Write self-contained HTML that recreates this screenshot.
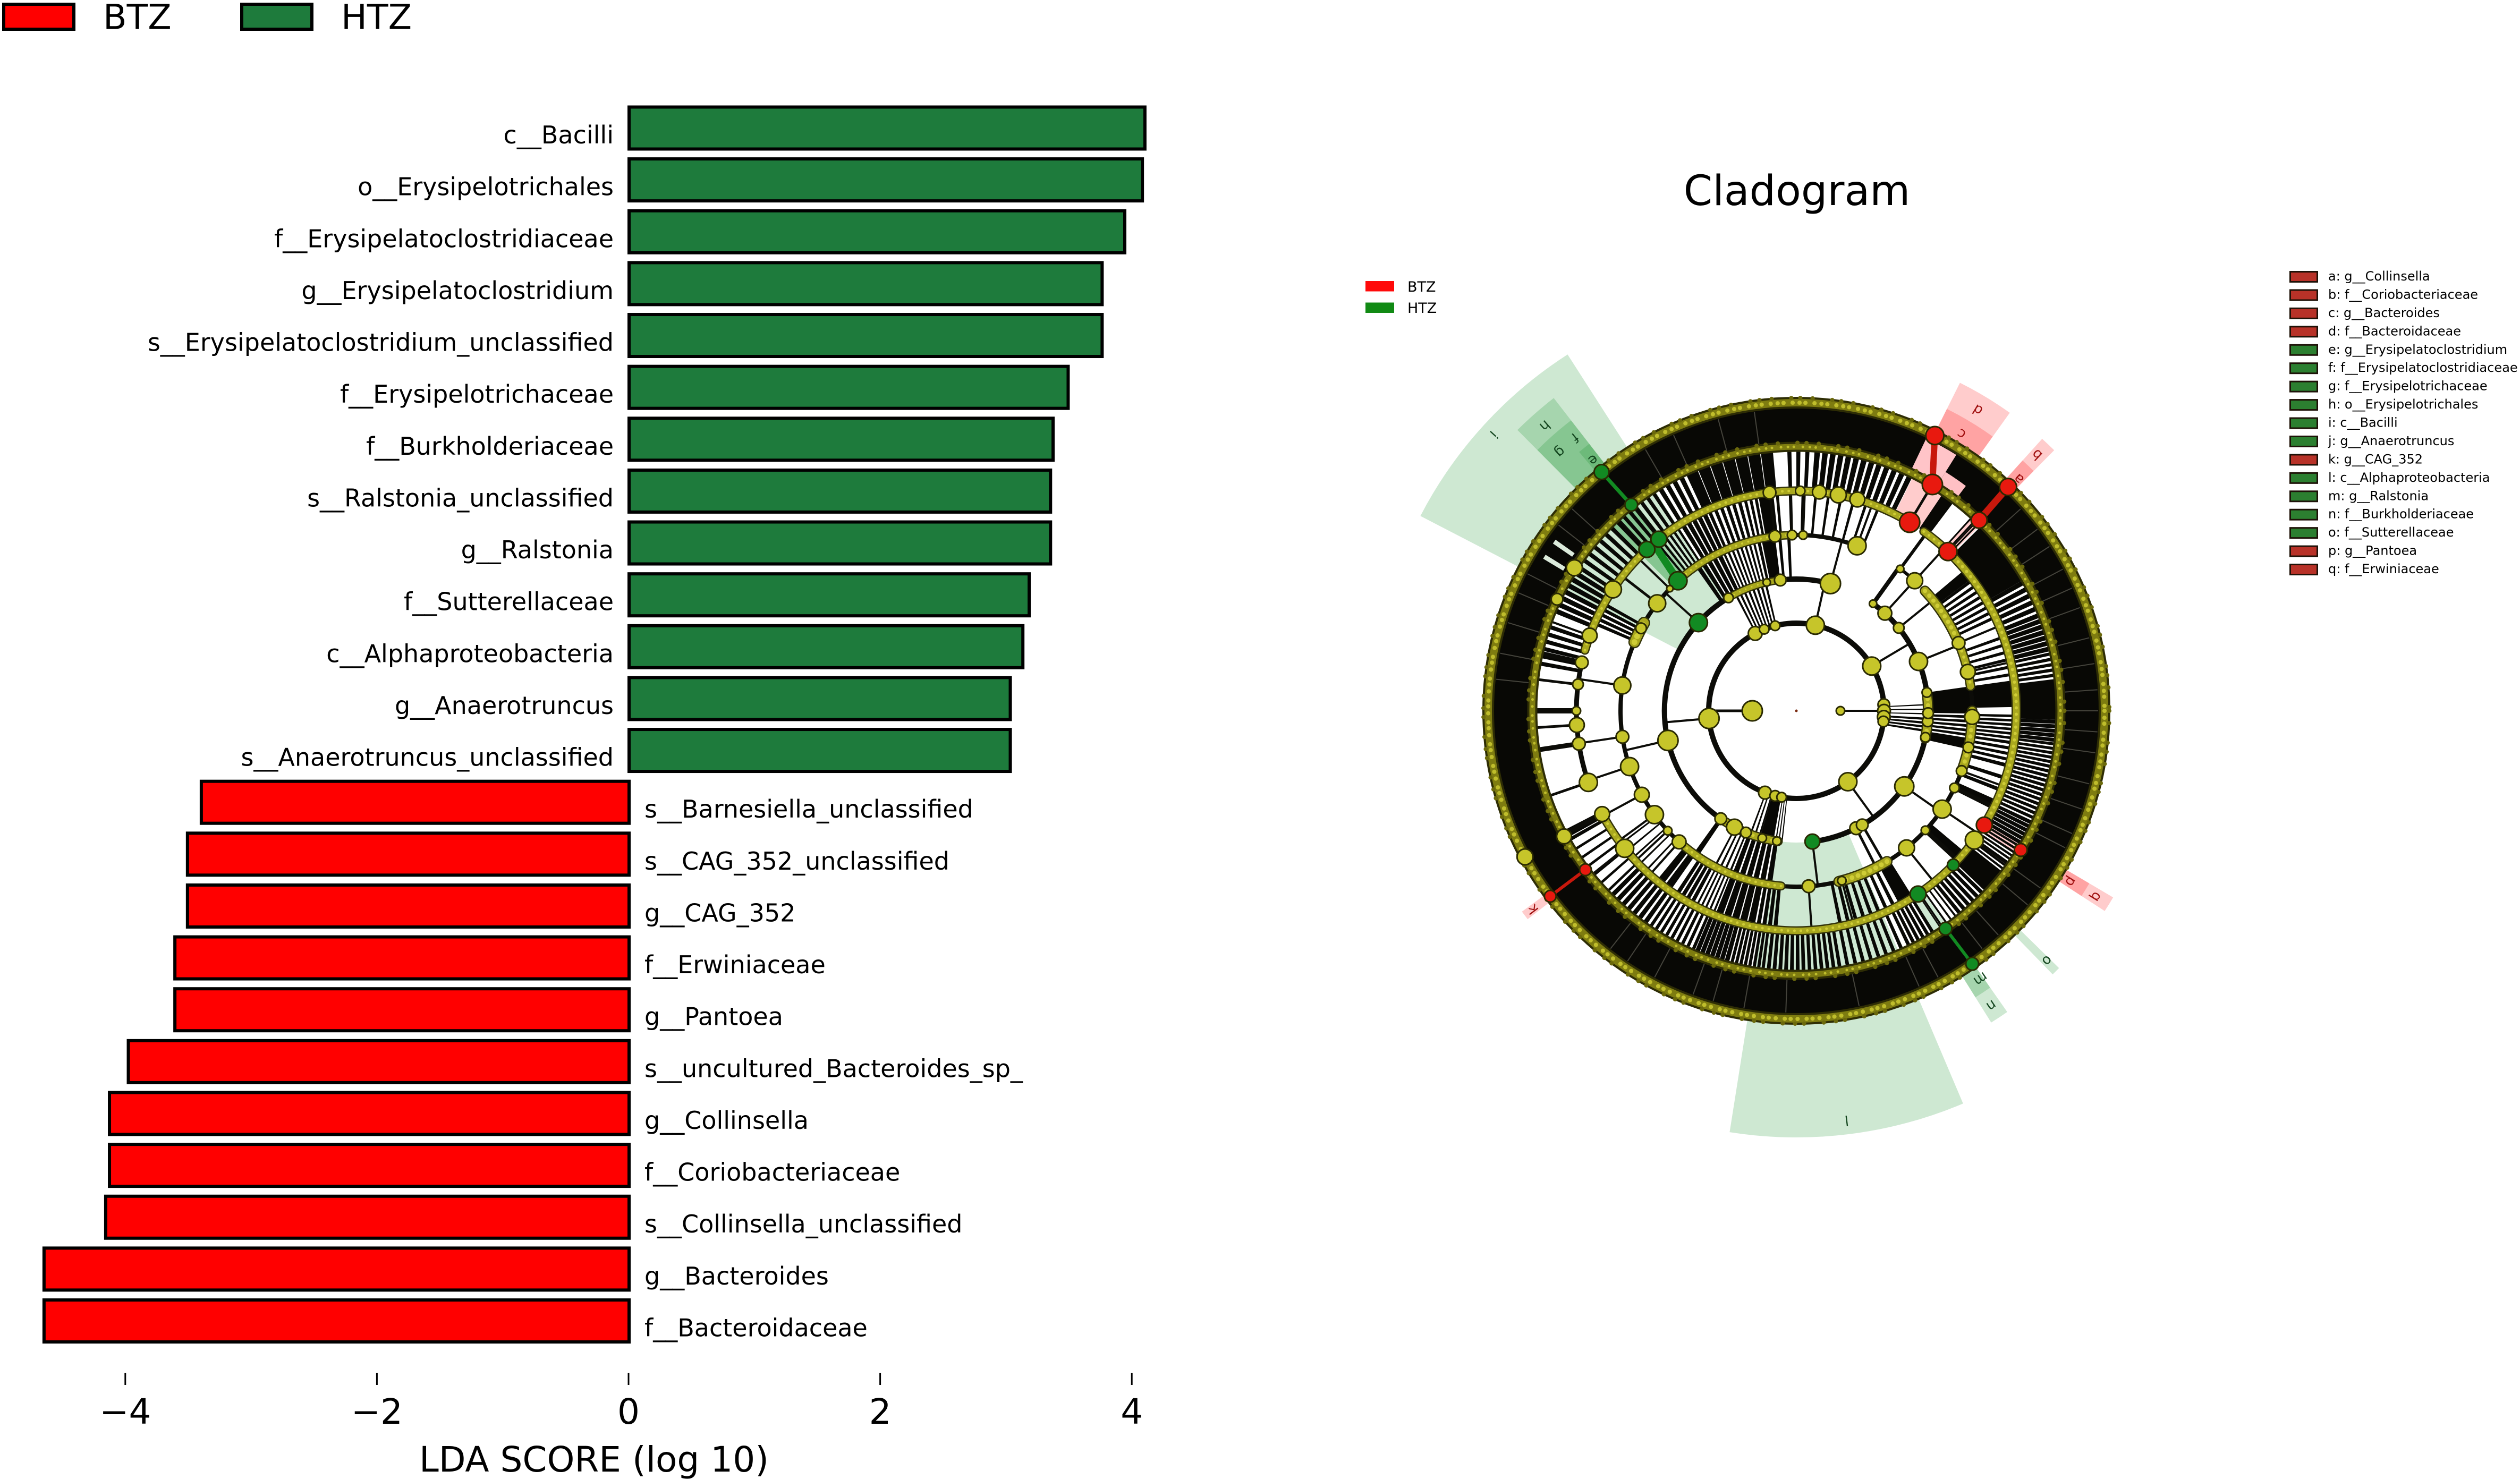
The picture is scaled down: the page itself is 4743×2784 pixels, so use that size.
<!DOCTYPE html>
<html lang="en">
<head>
<meta charset="utf-8">
<title>LDA score bars and cladogram</title>
<style>
html,body{margin:0;padding:0;background:#fff;}
svg{display:block;}
text{font-family:"DejaVu Sans","Liberation Sans",sans-serif;fill:#000;}
</style>
</head>
<body>
<svg id="figure" xmlns="http://www.w3.org/2000/svg" width="4743" height="2784" viewBox="0 0 4743 2784">
  <rect x="0" y="0" width="4743" height="2784" fill="#fff"/>
  <g id="barChart"></g>
  <g id="cladogram"></g>
</svg>
<script>
/* ---------- bar chart data ---------- */
const barLabels = ["c__Bacilli","o__Erysipelotrichales","f__Erysipelatoclostridiaceae","g__Erysipelatoclostridium","s__Erysipelatoclostridium_unclassified","f__Erysipelotrichaceae","f__Burkholderiaceae","s__Ralstonia_unclassified","g__Ralstonia","f__Sutterellaceae","c__Alphaproteobacteria","g__Anaerotruncus","s__Anaerotruncus_unclassified","s__Barnesiella_unclassified","s__CAG_352_unclassified","g__CAG_352","f__Erwiniaceae","g__Pantoea","s__uncultured_Bacteroides_sp_","g__Collinsella","f__Coriobacteriaceae","s__Collinsella_unclassified","g__Bacteroides","f__Bacteroidaceae"];
const barValues = [4.10,4.08,3.94,3.76,3.76,3.49,3.37,3.35,3.35,3.18,3.13,3.03,3.03,-3.40,-3.51,-3.51,-3.61,-3.61,-3.98,-4.13,-4.13,-4.16,-4.65,-4.65];
const xTicks = [-4,-2,0,2,4];
const xTickLabels = ["\u22124","\u22122","0","2","4"];
const xAxisTitle = "LDA SCORE (log 10)";
const topLegendNames = ["BTZ","HTZ"];
const topLegendColors = ["#ff0000","#1e7b3c"];

/* ---------- cladogram data (angles in degrees, clockwise from east) ---------- */
const ringRadii = [83,165,248,331,414,497,580];
const cladeNames = ["a: g__Collinsella","b: f__Coriobacteriaceae","c: g__Bacteroides","d: f__Bacteroidaceae","e: g__Erysipelatoclostridium","f: f__Erysipelatoclostridiaceae","g: f__Erysipelotrichaceae","h: o__Erysipelotrichales","i: c__Bacilli","j: g__Anaerotruncus","k: g__CAG_352","l: c__Alphaproteobacteria","m: g__Ralstonia","n: f__Burkholderiaceae","o: f__Sutterellaceae","p: g__Pantoea","q: f__Erwiniaceae"];
const cladeGroups = ["r","r","r","r","g","g","g","g","g","g","r","g","g","g","g","r","r"];
/* letter, group, start angle, end angle, inner ring, outer radius, label radius, label angle */
const cladeWedges = [
 ["i","g",207.4,237.3,2,797,772,222.4],
 ["l","g",67,99,2,803,776,83],
 ["h","g",225.2,232.2,3,745,716,228.6],
 ["g","g",225.2,230,3,692,660,227.6],
 ["f","g",230,232.2,4,692,663,231],
 ["e","g",230,232.2,5,636,608,231],
 ["d","r",-63.5,-54.4,4,690,662,-58.9],
 ["c","r",-63.5,-54.4,5,635,607,-59.2],
 ["b","r",-47.9,-45.3,4,690,662,-46.8],
 ["a","r",-47.9,-45.3,5,635,605,-46.2],
 ["q","r",30.5,33,4,692,664,31.8],
 ["p","r",30.5,33,5,640,608,31.9],
 ["n","g",55,58,4,692,665,56.5],
 ["m","g",55,58,5,636,612,55.5],
 ["o","g",44.4,45.8,5,692,666,44.9],
 ["k","r",142.2,143.8,5,640,620,143]
];
/* spoke blocks per gap: start, end, spoke count, black share */
const gap12 = [[242,258,8,.5],[-3,3,3,.3],[3,10,4,.6],[96,100,3,.4],[100,106,1,1],[106,112,3,.4]];
const gap23 = [[235,245,5,.75],[245,257,8,.5],[257,258.5,1,.7],[258.5,263,1,1],[264,270,2,.35],[-8,0,1,1],[0,9,6,.6],[9,13,1,.9],[98,112,6,.75],[112,119,4,.4],[124,126,1,.9]];
const gap34 = [[203,210,5,.65],[230,238,6,.5],[238,246,5,.75],[246,256,6,.55],[256,266,7,.55],[260,263,1,1],[-92,-65,8,.22],[-40,-37,1,1],[-37,-24,8,.5],[-20,-8,6,.4],[-8,-1,1,1],[1,8,6,.6],[8,14,4,.55],[14,24,3,.3],[24,27,1,.9],[40,42.5,1,.9],[58,62,1,1],[63,80,8,.45],[95,101,4,.7],[101,112,5,.85],[112,118,5,.45],[118,124,4,.7],[125,130,2,.8],[133,145,5,.2]];
const gap45 = [[136,150,6,.25],[150,153,3,.8],[125,136,7,.65],[113,125,9,.55],[105,113,7,.88],[97,105,8,.7],[88,97,7,.65],[80,88,6,.6],[64,80,9,.45],[58,64,5,.65],[52,57,4,.35],[44,52,6,.65],[38,44,1,.95],[31,38,8,.6],[25,31,6,.85],[12,25,12,.65],[7,12,5,.65],[2,7,5,.88],[-7,2,1,1],[-13,-7,5,.6],[-22,-13,7,.82],[-30,-22,5,.65],[-45,-30,1,1],[-48,-45,3,.4],[-56,-53,1,1],[-72,-63,5,.65],[-86,-72,8,.7],[-92,-86,3,.45],[245,265,7,.94],[238,245,4,.6],[228,238,6,.5],[213,228,8,.5],[202,213,7,.7],[190,200,6,.55]];
const gap56 = [[0,360,1,1]];
const gap56Hairlines = [186,191,197,203,207,218,222,240,246,255,262,-42,-37,-33,-28,-24,-20,-14,-9,-4,0,4,8,14,19,24,27,36,40,48,52,62,66,78,92,100,106,110,118,124,128];
const gap56Glints = [211,214.5];
/* black arcs: ring, start, end, width */
const ringArcs = [[1,0,360,10],[2,-54.4,83,10],[2,98,285,10],[3,-43,290,8],[3,-54,-47.7,6],[4,161,193.4,9]];
/* olive bands: ring, start, end, width */
const ringBands = [[2,239,263,10],[2,98,125,13],[2,-8,12,15],[3,229,268,11],[3,203,210,18],[3,95,131,12],[3,59,76,16],[3,-43,-25,15],[3,-22,-8,13],[3,0,20,15],[4,-46,31,13],[4,36,57,12],[4,57,152,12],[4,196,301,12],[4,-54.6,-46.4,12]];
const fullBands = [[5,13],[6,16]];
/* nodes per ring: angle, size, colour group, spoke width */
const nodesR0 = [[180,19,"y",5],[0,8,"y",4]];
const nodesR1 = [[175,19,"y",4],[-30.7,17,"y",4],[-77.5,17,"y",4],[54,17,"y",4],[111,12,"y",0],[104,10,"y",0],[99.7,9,"y",0],[242,13,"y",0],[248.5,9,"y",0],[256,9,"y",0],[-4,11,"y",0],[0,12,"y",0],[4,12,"y",0],[7,10,"y",0]];
const nodesR2 = [[167,19,"y",4],[222,17,"g",4],[-75,19,"y",4],[-47.8,13,"y",4],[-39,10,"y",4],[-54.4,7,"y",8],[-22,17,"y",4],[35,18,"y",4],[63,12,"y",5],[60,11,"y",5],[83,14,"g",4],[4.6,10,"y",0],[-8,9,"y",0],[1,10,"y",0],[11.6,9,"y",0],[125,11,"y",0],[118,15,"y",0],[112.5,10,"y",0],[105,8,"y",0],[98.5,8,"y",0],[263,11,"y",0],[257,7,"y",0],[239,9,"y",0]];
const nodesR3 = [[188.3,16,"y",4],[171.5,12,"y",4],[161.5,17,"y",4],[151.5,14,"y",4],[143.8,17,"y",4],[137,8,"y",4],[131.8,13,"y",4],[217.7,16,"y",5],[227.7,17,"g",0],[224,6,"y",4],[-69.8,17,"y",4],[268.6,9,"y",4],[272.2,8,"y",4],[263,11,"y",4],[-53.8,7,"y",6],[-47.7,15,"y",4],[-22.7,12,"y",4],[-12.8,14,"y",4],[2,14,"y",0],[12,10,"y",0],[20,10,"y",4],[26,9,"y",8],[34,17,"y",4],[42.8,8,"y",9],[51.2,15,"y",4],[86,12,"y",4],[75,8,"y",4],[208,10,"y",0]];
const nodesR4 = [[186.9,10,"y",5],[180,8,"y",10],[176.3,14,"y",5],[171.4,12,"y",9],[161,17,"y",5],[192.7,12,"y",9],[200,14,"y",4],[213.5,16,"y",4],[141.3,17,"y",4],[152,14,"y",9],[227.2,15,"g",3],[231.3,15,"g",3],[-84,13,"y",0],[-79,15,"y",0],[-73.9,14,"y",0],[263,12,"y",0],[271,9,"y",0],[-59,19,"r",5],[-46.4,17,"r",3],[31.3,15,"r",4],[36,17,"y",4],[44.5,11,"g",0],[56.4,15,"g",3]];
const nodesR5 = [[-59,19,"r",0],[-46.2,15,"r",0],[31.8,12,"r",0],[55.6,12,"g",0],[231.3,12,"g",0],[143,11,"r",0],[212.8,15,"y",0],[205,11,"y",0],[151.6,14,"y",0]];
const nodesR6 = [[-63.3,17,"r",0],[-46.6,16,"r",0],[230.8,14,"g",0],[55.2,12,"g",0],[143,11,"r",0],[151.7,15,"y",0]];
/* coloured links: ring A, angle A, ring B, angle B, group, width */
const cladeLinks = [[5,-59,6,-63.3,"r",12],[5,-46.2,6,-46.6,"r",13],[5,143,6,143,"r",6],[3,227.7,4,229.5,"g",14],[5,231.3,6,230.8,"g",7],[5,55.6,6,55.2,"g",6]];
const cladeLegendNames = ["BTZ","HTZ"];
const cladeLegendColors = ["#ff0a0a","#118a14"];
const cladeTitle = "Cladogram";

/* ---------- helpers ---------- */
const SVGNS = "http://www.w3.org/2000/svg";
function add(parent, tag, attrs, name, txt) {
  const el = document.createElementNS(SVGNS, tag);
  for (const k in attrs) el.setAttribute(k, attrs[k]);
  
  
  if (txt !== undefined) el.textContent = txt;
  parent.appendChild(el);
  return el;
}

/* ---------- bar chart ---------- */
const chart = document.getElementById("barChart");
const xZero = 1184, xUnit = 236.8, rowTop = 241, rowPitch = 97.63, barH = 79, barStroke = 6;
const xAxis = v => xZero + v * xUnit;
const yAxis = i => rowTop + i * rowPitch;

barValues.forEach((v, i) => {
  const x0 = Math.min(xAxis(0), xAxis(v));
  add(chart, "rect", {x:x0, y:yAxis(i)-barH/2, width:Math.abs(xAxis(v)-xAxis(0)), height:barH,
    fill:v>=0?topLegendColors[1]:topLegendColors[0], stroke:"#000", "stroke-width":barStroke}, "bar-"+barLabels[i]);
  add(chart, "text", {x:v>=0?1155:1213, y:yAxis(i)+29, "font-size":46, "text-anchor":v>=0?"end":"start"}, "bar-label-"+barLabels[i], barLabels[i]);
});
xTicks.forEach((t, i) => {
  add(chart, "line", {x1:xAxis(t)-1, x2:xAxis(t)-1, y1:2584, y2:2607, stroke:"#000", "stroke-width":3}, "x-tick-mark");
  add(chart, "text", {x:xAxis(t)-1, y:2680, "font-size":66, "text-anchor":"middle"}, "x-tick-label", xTickLabels[i]);
});
add(chart, "text", {x:1118, y:2770, "font-size":66, "text-anchor":"middle"}, "x-axis-title", xAxisTitle);
topLegendNames.forEach((n, i) => {
  const lx = 7 + i*448;
  add(chart, "rect", {x:lx, y:8, width:132, height:47, fill:topLegendColors[i], stroke:"#000", "stroke-width":6}, "legend-swatch-"+n);
  add(chart, "text", {x:lx+187, y:54.5, "font-size":65}, "legend-label-"+n, n);
});

/* ---------- cladogram ---------- */
const clad = document.getElementById("cladogram");
const cx = 3381, cy = 1338;
const pol = (r, a) => [cx + r*Math.cos(a*Math.PI/180), cy + r*Math.sin(a*Math.PI/180)];
const fmt = p => p[0].toFixed(1)+" "+p[1].toFixed(1);
function sectorPath(a0, a1, r0, r1) {
  const large = (a1-a0) > 180 ? 1 : 0;
  return "M"+fmt(pol(r0,a0))+"L"+fmt(pol(r1,a0))+"A"+r1+" "+r1+" 0 "+large+" 1 "+fmt(pol(r1,a1))+"L"+fmt(pol(r0,a1))+"A"+r0+" "+r0+" 0 "+large+" 0 "+fmt(pol(r0,a0))+"Z";
}
function arcPath(r, a0, a1) {
  const large = (a1-a0) > 180 ? 1 : 0;
  return "M"+fmt(pol(r,a0))+"A"+r+" "+r+" 0 "+large+" 1 "+fmt(pol(r,a1));
}
const wedgeFill = {g:"#0a8a20", r:"#ff0000"};
const nodeFill = {y:"#c6c52a", g:"#128a22", r:"#e8190f"};
const labelFill = {g:"#14461f", r:"#a01010"};

/* wedges */
cladeWedges.forEach(w => {
  add(clad, "path", {d:sectorPath(w[2],w[3],ringRadii[w[4]],w[5]), fill:wedgeFill[w[1]], "fill-opacity":.2}, "clade-wedge-"+w[0]);
});

/* spokes between rings */
[gap12,gap23,gap34,gap45,gap56].forEach((gap, gi) => {
  const r0 = ringRadii[gi+1], r1 = ringRadii[gi+2];
  const blk = add(clad, "g", {fill:"#080805"}, "spokes-ring-"+(gi+1));
  gap.forEach(b => {
    const step = (b[1]-b[0])/b[2];
    for (let k = 0; k < b[2]; k++) {
      if (b[1]-b[0] >= 360) {
        add(blk, "circle", {cx:cx, cy:cy, r:(r0+r1)/2, fill:"none", stroke:"#080805", "stroke-width":r1-r0}, "outer-black-annulus");
      } else {
        const a = b[0]+k*step;
        add(blk, "path", {d:sectorPath(a, a+step*b[3], r0, r1)}, "spoke");
      }
    }
  });
});
gap56Hairlines.forEach(a => {
  const p = pol(507,a), q = pol(568,a);
  add(clad, "line", {x1:p[0], y1:p[1], x2:q[0], y2:q[1], stroke:"#45443c", "stroke-width":2}, "hairline-gap");
});
gap56Glints.forEach(a => {
  add(clad, "path", {d:sectorPath(a,a+.9,512,556), fill:"#dcebdc"}, "glint-gap");
});
add(clad, "path", {d:sectorPath(-58,-53,505,530), fill:"#ffc0c4"}, "pink-gap-lower");
add(clad, "path", {d:sectorPath(-64.5,-58,503,568), fill:"#ffc4c8"}, "pink-gap-upper");

/* node spokes */
[nodesR0,nodesR1,nodesR2,nodesR3,nodesR4].forEach((nodes, ri) => {
  nodes.forEach(n => {
    if (!n[3]) return;
    const p = pol(ringRadii[ri],n[0]), q = pol(ringRadii[ri+1],n[0]);
    add(clad, "line", {x1:p[0], y1:p[1], x2:q[0], y2:q[1], stroke:"#0c0c08", "stroke-width":n[3]}, "node-spoke");
  });
});

/* black arcs */
ringArcs.forEach(a => {
  add(clad, "path", {d:a[2]-a[1]>=360 ? arcPath(ringRadii[a[0]],0,180)+arcPath(ringRadii[a[0]],180,360) : arcPath(ringRadii[a[0]],a[1],a[2]), fill:"none", stroke:"#0c0c08", "stroke-width":a[3]}, "ring-arc");
});

/* olive bands */
ringBands.forEach(b => {
  const d = arcPath(ringRadii[b[0]],b[1],b[2]);
  add(clad, "path", {d:d, fill:"none", stroke:"#33330a", "stroke-width":b[3]+5, "stroke-linecap":"round"}, "ring-band-edge");
  add(clad, "path", {d:d, fill:"none", stroke:"#a9a81e", "stroke-width":b[3], "stroke-linecap":"round"}, "ring-band");
  add(clad, "path", {d:d, fill:"none", stroke:"#cfcd36", "stroke-width":Math.max(3,b[3]-7), "stroke-linecap":"round", "stroke-dasharray":"0.1 12"}, "ring-band-beads");
});
fullBands.forEach(b => {
  const r = ringRadii[b[0]];
  add(clad, "circle", {cx:cx, cy:cy, r:r, fill:"none", stroke:"#2e2d05", "stroke-width":b[1]+6}, "full-band-edge");
  add(clad, "circle", {cx:cx, cy:cy, r:r, fill:"none", stroke:"#7e7c10", "stroke-width":b[1]-2}, "full-band");
  add(clad, "circle", {cx:cx, cy:cy, r:r, fill:"none", stroke:"#bfbd2b", "stroke-width":b[1]-8, "stroke-linecap":"round", "stroke-dasharray":"0.1 13 0.1 11 0.1 17"}, "full-band-beads");
  add(clad, "circle", {cx:cx, cy:cy, r:r+b[1]/2+1, fill:"none", stroke:"#6b690c", "stroke-width":8, "stroke-linecap":"round", "stroke-dasharray":"0.1 23 0.1 37 0.1 17"}, "full-band-bumps");
});

/* coloured links */
cladeLinks.forEach(l => {
  const p = pol(ringRadii[l[0]],l[1]), q = pol(ringRadii[l[2]],l[3]);
  add(clad, "line", {x1:p[0], y1:p[1], x2:q[0], y2:q[1], stroke:l[4]==="r"?"#c8180c":"#128a22", "stroke-width":l[5]}, "clade-link");
});

/* nodes */
[nodesR0,nodesR1,nodesR2,nodesR3,nodesR4,nodesR5,nodesR6].forEach((nodes, ri) => {
  nodes.forEach(n => {
    const p = pol(ringRadii[ri],n[0]);
    add(clad, "circle", {cx:p[0], cy:p[1], r:n[1], fill:nodeFill[n[2]], stroke:"#2a2a02", "stroke-width":3}, "clade-node");
  });
});
add(clad, "circle", {cx:cx, cy:cy, r:2.5, fill:"#7a2a10"}, "root-node");

/* wedge letters */
cladeWedges.forEach(w => {
  const p = pol(w[6],w[7]);
  const norm = ((w[7]%360)+360)%360;
  const rot = norm >= 180 ? norm-90 : norm+90;
  add(clad, "text", {x:p[0], y:p[1], "font-size":26, "text-anchor":"middle", "dominant-baseline":"central",
    transform:"rotate("+rot.toFixed(1)+" "+p[0].toFixed(1)+" "+p[1].toFixed(1)+")", style:"fill:"+labelFill[w[1]]}, "clade-letter-"+w[0], w[0]);
});

/* title and legends */
add(clad, "text", {x:3382, y:386, "font-size":78, "text-anchor":"middle"}, "cladogram-title", cladeTitle);
cladeLegendNames.forEach((n, i) => {
  add(clad, "rect", {x:2570, y:529+i*40.5, width:54, height:19.5, fill:cladeLegendColors[i]}, "cladogram-legend-swatch-"+n);
  add(clad, "text", {x:2649, y:549+i*40, "font-size":27}, "cladogram-legend-label-"+n, n);
});
cladeNames.forEach((n, i) => {
  const ly = 510 + i*34.44;
  add(clad, "rect", {x:4310.5, y:ly+1.5, width:51, height:19, fill:cladeGroups[i]==="r"?"#b83228":"#2c7f30", stroke:"#1e1208", "stroke-width":3}, "clade-key-swatch");
  add(clad, "text", {x:4382, y:ly+18, "font-size":24}, "clade-key-label", n);
});
</script>
</body>
</html>
